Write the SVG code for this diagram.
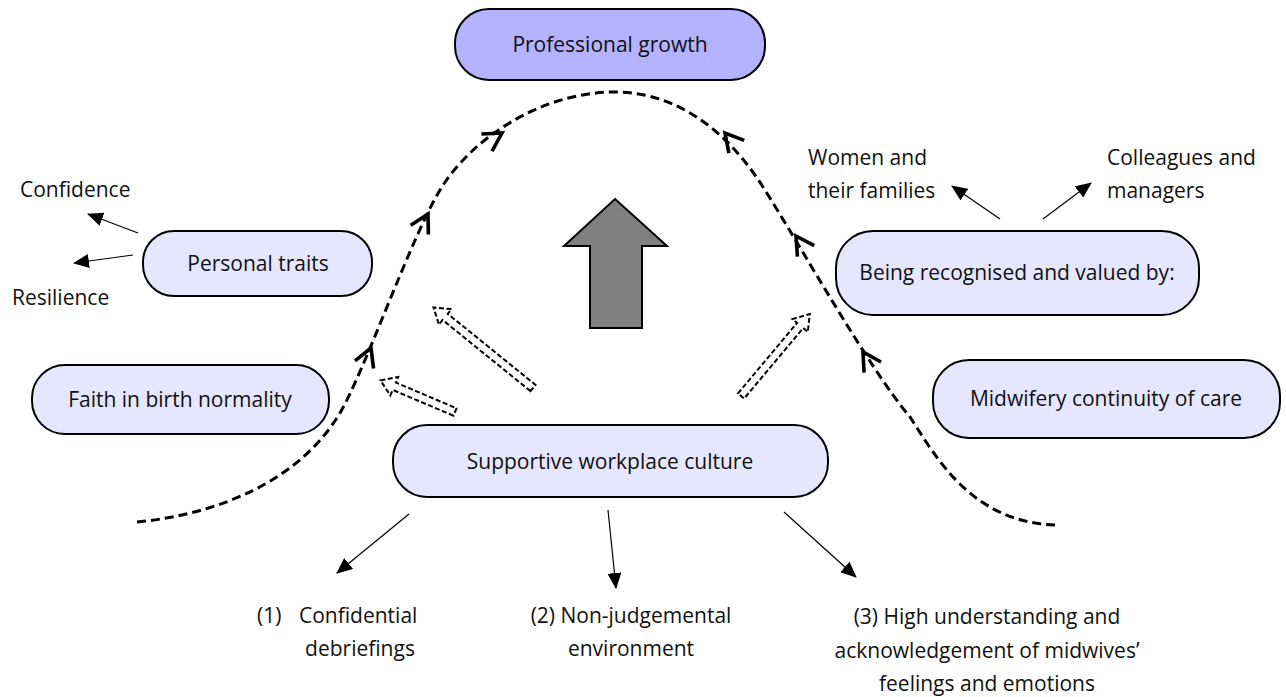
<svg xmlns="http://www.w3.org/2000/svg" xmlns:xlink="http://www.w3.org/1999/xlink" width="1286" height="697" viewBox="0 0 1286 697">
  <style>
    .node { fill: #e6e6ff; stroke: #000; stroke-width: 2; }
    .top { fill: #b3b3ff; }
    .lbl { font-family: "Open Sans", "Noto Sans", sans-serif; font-size: 21px; fill: #111; }
    .mid { text-anchor: middle; }
    .curve { fill: none; stroke: #000; stroke-width: 3; stroke-dasharray: 9 5; }
    .chev { fill: none; stroke: #000; stroke-width: 3.6; stroke-linejoin: miter; stroke-miterlimit: 8; }
    .thin { stroke: #000; stroke-width: 1.2; fill: none; marker-end: url(#tri); }
    .hollow { fill: #fff; stroke: #000; stroke-width: 2; stroke-dasharray: 5 2.5; }
  </style>
  <defs>
    <marker id="tri" markerUnits="userSpaceOnUse" markerWidth="16" markerHeight="14" viewBox="0 0 16 14" refX="15" refY="7" orient="auto">
      <path d="M0,0 L16,7 L0,14 Z" fill="#000"/>
    </marker>
    <path id="chevron" d="M-18,-10 L0,0 L-18,10"/>
  </defs>

  <rect width="1286" height="697" fill="#fff"/>

  <!-- connectors -->
  <g id="connectors">
    <!-- dashed growth curve -->
    <path class="curve" d="M137,522 C220,514 300,480 340,413 C365,370 410,240 440,190 C470,140 540,92 615,92 C680,92 730,135 763,187 C800,245 870,370 910,417 C935,455 970,522 1055,525"/>
    <!-- chevrons along the curve, pointing toward the peak -->
    <g class="chev">
      <use xlink:href="#chevron" transform="translate(371,348) rotate(-68)"/>
      <use xlink:href="#chevron" transform="translate(428,214) rotate(-62)"/>
      <use xlink:href="#chevron" transform="translate(502,133) rotate(-32)"/>
      <use xlink:href="#chevron" transform="translate(725,133) rotate(-130)"/>
      <use xlink:href="#chevron" transform="translate(796,236) rotate(-123)"/>
      <use xlink:href="#chevron" transform="translate(863,352) rotate(-122)"/>
    </g>

    <!-- hollow dashed arrows from the workplace culture -->
    <polygon class="hollow" transform="translate(455,412) rotate(-157)" points="0,-4 66,-4 66,-10 81,0 66,10 66,4 0,4"/>
    <polygon class="hollow" transform="translate(533,388) rotate(-141)" points="0,-4 113,-4 113,-10 128,0 113,10 113,4 0,4"/>
    <polygon class="hollow" transform="translate(741,396) rotate(-50)" points="0,-4 92,-4 92,-10 107,0 92,10 92,4 0,4"/>

    <!-- big solid upward arrow -->
    <polygon points="615,199 667,246 642,246 642,328 590,328 590,246 564,246" fill="#808080" stroke="#000" stroke-width="2"/>

    <!-- thin arrows -->
    <line class="thin" x1="138" y1="233" x2="88" y2="214"/>
    <line class="thin" x1="133" y1="255" x2="74" y2="263"/>
    <line class="thin" x1="1000" y1="219" x2="952" y2="186"/>
    <line class="thin" x1="1043" y1="219" x2="1091" y2="183"/>
    <line class="thin" x1="409" y1="514" x2="337" y2="573"/>
    <line class="thin" x1="608" y1="510" x2="616" y2="588"/>
    <line class="thin" x1="784" y1="512" x2="856" y2="577"/>
  </g>

  <!-- nodes -->
  <g id="professional-growth">
    <rect class="node top" x="455" y="9" width="310" height="71" rx="34"/>
    <text class="lbl mid" x="610" y="52">Professional growth</text>
  </g>
  <g id="personal-traits">
    <rect class="node" x="143" y="231" width="229" height="65" rx="31"/>
    <text class="lbl mid" x="258" y="271">Personal traits</text>
  </g>
  <g id="faith-birth">
    <rect class="node" x="32" y="365" width="297" height="69" rx="33"/>
    <text class="lbl mid" x="180" y="407">Faith in birth normality</text>
  </g>
  <g id="supportive-culture">
    <rect class="node" x="393" y="425" width="435" height="72" rx="34"/>
    <text class="lbl mid" x="610" y="469">Supportive workplace culture</text>
  </g>
  <g id="recognised">
    <rect class="node" x="836" y="231" width="363" height="84" rx="37"/>
    <text class="lbl mid" x="1017" y="280">Being recognised and valued by:</text>
  </g>
  <g id="continuity">
    <rect class="node" x="933" y="360" width="347" height="78" rx="36"/>
    <text class="lbl mid" x="1106" y="406">Midwifery continuity of care</text>
  </g>

  <!-- free labels -->
  <g id="labels">
    <text class="lbl" x="20" y="197">Confidence</text>
    <text class="lbl" x="12" y="305">Resilience</text>
    <text class="lbl" x="808" y="165">Women and</text>
    <text class="lbl" x="808" y="198">their families</text>
    <text class="lbl" x="1107" y="165">Colleagues and</text>
    <text class="lbl" x="1107" y="198">managers</text>
    <text class="lbl" y="623"><tspan x="257">(1)</tspan><tspan x="299">Confidential</tspan></text>
    <text class="lbl mid" x="360" y="656">debriefings</text>
    <text class="lbl mid" x="631" y="623">(2) Non-judgemental</text>
    <text class="lbl mid" x="631" y="656">environment</text>
    <text class="lbl mid" x="987" y="624">(3) High understanding and</text>
    <text class="lbl mid" x="987" y="658">acknowledgement of midwives’</text>
    <text class="lbl mid" x="987" y="691">feelings and emotions</text>
  </g>
</svg>
